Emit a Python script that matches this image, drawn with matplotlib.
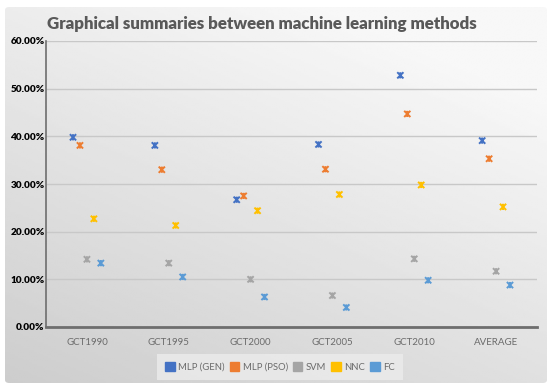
import matplotlib
matplotlib.use("Agg")
import matplotlib.pyplot as plt
import numpy as np
from matplotlib.patches import FancyBboxPatch
from matplotlib.path import Path
from matplotlib.ticker import FuncFormatter

categories = ["GCT1990", "GCT1995", "GCT2000", "GCT2005", "GCT2010", "AVERAGE"]
series_names = ["MLP (GEN)", "MLP (PSO)", "SVM", "NNC", "FC"]
mlp_gen = [0.398, 0.381, 0.267, 0.383, 0.528, 0.391]
mlp_pso = [0.381, 0.330, 0.275, 0.331, 0.447, 0.353]
svm = [0.142, 0.134, 0.100, 0.066, 0.143, 0.117]
nnc = [0.227, 0.213, 0.244, 0.278, 0.298, 0.252]
fc = [0.134, 0.105, 0.063, 0.041, 0.098, 0.088]
series_values = [mlp_gen, mlp_pso, svm, nnc, fc]
colors = ["#4472C4", "#ED7D31", "#A5A5A5", "#FFC000", "#5B9BD5"]

plt.rcParams["font.family"] = ["Lato", "DejaVu Sans"]

fig = plt.figure(figsize=(5.5, 3.9), dpi=100)
fig.patch.set_facecolor("white")

# gray gradient panel with rounded corners
panel = FancyBboxPatch((5 / 550, 7 / 390), 542 / 550, 376 / 390,
                       boxstyle="round,pad=0,rounding_size=0.008",
                       transform=fig.transFigure, facecolor="none",
                       edgecolor="none")
fig.patches.append(panel)
bg = fig.add_axes([0, 0, 1, 1], zorder=-5)
bg.set_axis_off()
gx, gy = np.meshgrid(np.linspace(0, 1, 200), np.linspace(0, 1, 200))
shade = 0.80 + 0.17 * np.clip(0.45 * gx + 0.75 * (1 - gy), 0, 1)
img = bg.imshow(shade, cmap="gray", vmin=0, vmax=1, extent=(0, 1, 0, 1),
                aspect="auto", origin="upper")
img.set_clip_path(panel)
bg.set_xlim(0, 1)
bg.set_ylim(0, 1)

# Excel-style star marker: X plus vertical stroke
star = Path([(-1, -1), (1, 1), (-1, 1), (1, -1), (0, -1), (0, 1)],
            [Path.MOVETO, Path.LINETO, Path.MOVETO, Path.LINETO,
             Path.MOVETO, Path.LINETO])

ax = fig.add_axes([46 / 550, 1 - 327 / 390, 491 / 550, 286 / 390])
ax.patch.set_alpha(0)
x = np.arange(len(categories))
for j, (name, vals, col) in enumerate(zip(series_names, series_values, colors)):
    ax.scatter(x + (j - 2) * 0.085, vals, marker=star, s=20, facecolor="none",
               edgecolor=col, linewidth=1.4, label=name, zorder=3)

ax.set_xlim(-0.5, len(categories) - 0.5)
ax.set_ylim(0, 0.6)
ax.set_yticks(np.arange(0, 0.61, 0.1))
ax.yaxis.set_major_formatter(FuncFormatter(lambda v, _: f"{v * 100:.2f}%"))
ax.set_xticks(x, categories)
ax.grid(axis="y", color="#c8c8c8", linewidth=1.0, zorder=0)
ax.tick_params(axis="both", length=0)
ax.tick_params(axis="y", labelsize=7.2, pad=1)
ax.tick_params(axis="x", labelsize=7, labelcolor="#6b6b6b", pad=8)
for lbl in ax.get_yticklabels():
    lbl.set_fontweight("heavy")
    lbl.set_color("black")
for side in ("top", "right"):
    ax.spines[side].set_visible(False)
ax.spines["left"].set_color("#6e6e6e")
ax.spines["left"].set_linewidth(1.2)
ax.spines["bottom"].set_color("#6e6e6e")
ax.spines["bottom"].set_linewidth(2)

handles = [plt.Rectangle((0, 0), 1, 1, color=c) for c in colors]
leg = fig.legend(handles, series_names, loc="center", ncol=5,
                 bbox_to_anchor=(280 / 550, 1 - 367 / 390), fontsize=6.8,
                 frameon=True, handlelength=1.0, handleheight=1.0,
                 handletextpad=0.35, columnspacing=0.55, borderpad=0.9)
leg.get_frame().set_facecolor("#ececec")
leg.get_frame().set_edgecolor("none")
leg.get_frame().set_boxstyle("square", pad=0)
for t in leg.get_texts():
    t.set_color("#6b6b6b")

fig.text(262 / 550, 1 - 24 / 390,
         "Graphical summaries between machine learning methods",
         ha="center", va="center", fontsize=12.2, fontweight="heavy",
         color="#595959")

fig.savefig("out.png", dpi=100)
